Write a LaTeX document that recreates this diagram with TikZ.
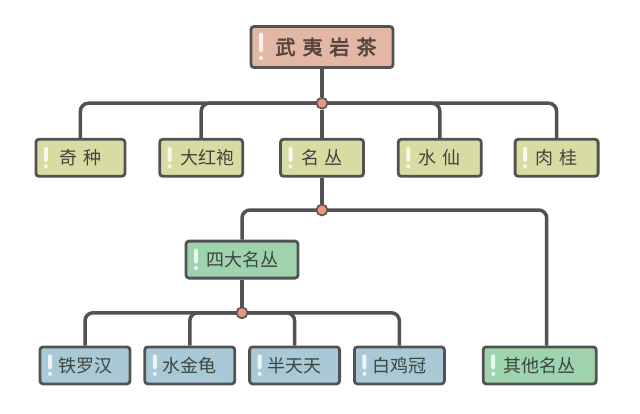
\documentclass[tikz,border=0pt]{standalone}
\usepackage{fontspec}
\setmainfont{Noto Sans CJK SC}
\newfontfamily\cjkbold{Noto Sans CJK SC}[FakeBold=3]
\usetikzlibrary{positioning, calc, backgrounds}

\definecolor{wirecol}{HTML}{525252}
\definecolor{textcol}{HTML}{3E4640}
\definecolor{roottext}{HTML}{5A4640}
\definecolor{rootfill}{HTML}{E2B7A5}
\definecolor{kindfill}{HTML}{D9DCA2}
\definecolor{groupfill}{HTML}{9ED3AE}
\definecolor{teafill}{HTML}{A9C9D6}
\definecolor{hubfill}{HTML}{E8967C}

\begin{document}
\begin{tikzpicture}[x=1pt, y=1pt,
        bang/.style = {
            path picture={
                \fill[white, opacity=.8, rounded corners=1.5pt]
                    ($(path picture bounding box.west)+(8,11*#1)$) rectangle ++(4,-15*#1);
                \fill[white, opacity=.8]
                    ($(path picture bounding box.west)+(10,-8.5*#1)$) circle (2);}
        },
        bang/.default = 1,
        box/.style = {
            rectangle,
            draw=wirecol,
            line width=2.8pt,
            rounded corners=3pt,
            minimum height=37pt,
            inner sep=0pt,
            text=textcol,
            font=\fontsize{18}{20}\selectfont,
            bang
        },
        root/.style = {box, fill=rootfill, minimum width=142pt, minimum height=41pt,
            text=roottext, font=\cjkbold\fontsize{20}{22}\selectfont, bang=1.3},
        kind/.style = {box, fill=kindfill, minimum width=83pt},
        group/.style = {box, fill=groupfill},
        tea/.style = {box, fill=teafill, minimum width=90pt},
        hub/.style = {circle, draw=wirecol, line width=1.6pt, fill=hubfill,
            minimum size=11pt, inner sep=0pt},
        wire/.style = {draw=wirecol, line width=3.5pt, rounded corners=8pt}
    ]

    \useasboundingbox (0,0) rectangle (640,-413);

    \node (cha) [root] at (322,-47) {\hspace{8pt}武\hspace{7pt}夷\hspace{7pt}岩\hspace{7pt}茶};

    \node (ming) [kind, below=69pt of cha] {名\hspace{6pt}丛};
    \node (dahong) [kind, left=35pt of ming] {\hspace{12pt}大红袍};
    \node (qizhong) [kind, minimum width=89pt, left=32pt of dahong] {奇\hspace{6pt}种};
    \node (shuixian) [kind, right=32pt of ming] {水\hspace{6pt}仙};
    \node (rougui) [kind, right=31pt of shuixian] {肉\hspace{6pt}桂};

    \node (sida) [group, minimum width=112pt, below=62pt of ming, xshift=-80pt] {四大名丛};

    \node (tieluohan) [tea, below=66pt of sida, xshift=-157pt] {铁罗汉};
    \node (shuijingui) [tea, right=12pt of tieluohan] {水金龟};
    \node (bantiantian) [tea, right=12pt of shuijingui] {半天天};
    \node (baijiguan) [tea, right=12pt of bantiantian] {白鸡冠};
    \node (qita) [group, minimum width=113pt, right=36pt of baijiguan] {其他名丛};

    \node (hub_cha) [hub, below=28pt of cha] {};
    \node (hub_ming) [hub, below=26pt of ming] {};
    \node (hub_sida) [hub, below=27pt of sida] {};

    \begin{scope}[on background layer]
        \draw[wire] (cha) -- (hub_cha) -- (ming);
        \foreach \n in {qizhong, dahong, shuixian, rougui}
            \draw[wire] (hub_cha.center) -| (\n);
        \draw[wire] (ming) -- (hub_ming);
        \draw[wire] (hub_ming.center) -| (sida);
        \draw[wire] (hub_ming.center) -| ([xshift=7pt]qita.north);
        \draw[wire] (sida) -- (hub_sida);
        \foreach \n in {tieluohan, shuijingui, bantiantian, baijiguan}
            \draw[wire] (hub_sida.center) -| (\n);
    \end{scope}

\end{tikzpicture}
\end{document}
